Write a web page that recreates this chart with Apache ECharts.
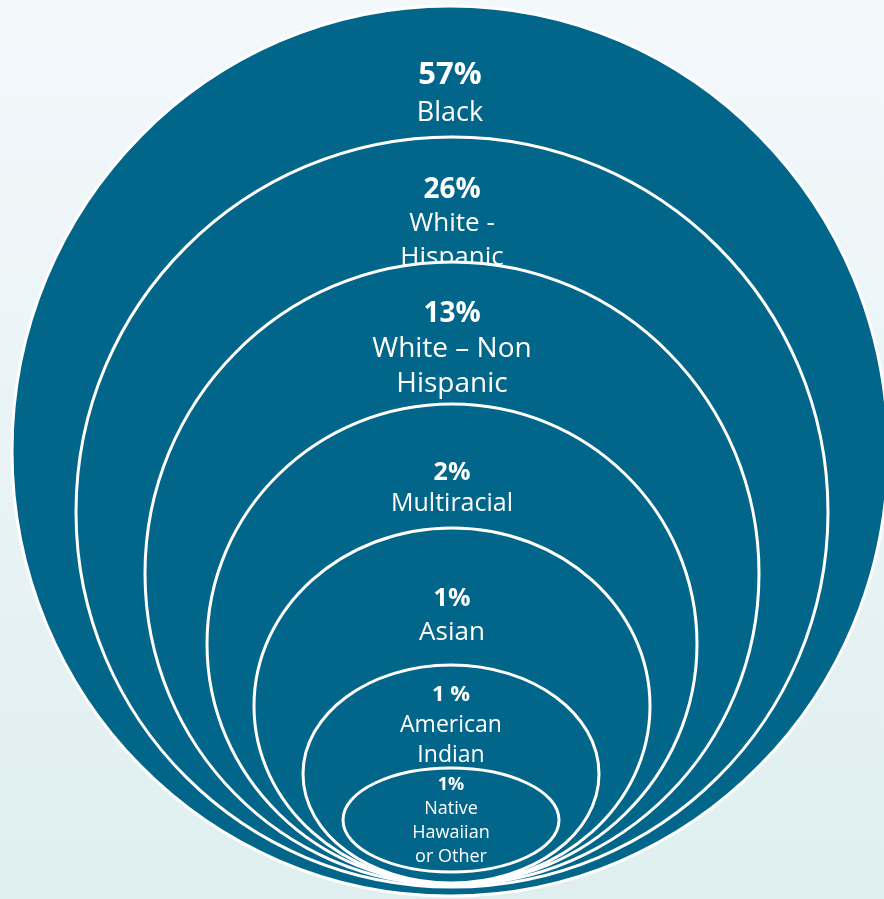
<!DOCTYPE html>
<html>
<head>
<meta charset="utf-8">
<script src="https://cdn.jsdelivr.net/npm/echarts@6/dist/echarts.min.js"></script>
<style>
  html, body { margin: 0; padding: 0; }
  #chart { width: 884px; height: 899px; }
</style>
</head>
<body>
<div id="chart"></div>
<script>
// Population shares by group, outermost ring first
const groups = ['Black', 'White - Hispanic', 'White – Non Hispanic', 'Multiracial', 'Asian', 'American Indian', 'Native Hawaiian or Other'];
const shares = [57, 26, 13, 2, 1, 1, 1];
// How each share is written beside its ring
const shareSuffix = ['%', '%', '%', '%', '%', ' %', '%'];
// Line breaks used for each group name
const nameLines = [
  ['Black'],
  ['White -', 'Hispanic'],
  ['White – Non', 'Hispanic'],
  ['Multiracial'],
  ['Asian'],
  ['American', 'Indian'],
  ['Native', 'Hawaiian', 'or Other']
];

// Ring layout in canvas units: horizontal centre, half width, top, bottom,
// first text line, line spacing and font sizes
const ringLayout = [
  { cx: 450, rx: 438, top: 6,   bottom: 896, textY: 75,  gap: 38, pctSize: 31, nameSize: 27 },
  { cx: 452, rx: 376, top: 137, bottom: 887, textY: 190, gap: 34, pctSize: 28, nameSize: 26 },
  { cx: 452, rx: 307, top: 262, bottom: 885, textY: 314, gap: 35, pctSize: 28, nameSize: 28 },
  { cx: 452, rx: 245, top: 404, bottom: 884, textY: 473, gap: 31, pctSize: 25, nameSize: 25 },
  { cx: 452, rx: 198, top: 528, bottom: 884, textY: 599, gap: 34, pctSize: 25, nameSize: 26 },
  { cx: 451, rx: 148, top: 665, bottom: 883, textY: 695, gap: 30, pctSize: 22, nameSize: 23 },
  { cx: 451, rx: 108, top: 768, bottom: 872, textY: 785, gap: 24, pctSize: 18, nameSize: 18 }
];

const W = 884, H = 899;
const FILL = '#02668a';
const FONT = '"Open Sans", "Noto Sans", sans-serif';

const chart = echarts.init(document.getElementById('chart'), null, { renderer: 'canvas' });

function renderRing(params, api) {
  const i = api.value(0);
  const L = ringLayout[i];
  const p0 = api.coord([L.cx - L.rx, L.top]);
  const p1 = api.coord([L.cx + L.rx, L.bottom]);
  const cx = (p0[0] + p1[0]) / 2;
  const cy = (p0[1] + p1[1]) / 2;
  const rx = Math.abs(p1[0] - p0[0]) / 2;
  const ry = Math.abs(p1[1] - p0[1]) / 2;

  const children = [{
    type: 'ellipse',
    shape: { cx: cx, cy: cy, rx: rx, ry: ry },
    style: { fill: FILL, stroke: '#ffffff', lineWidth: 3 }
  }];

  const lines = [{ text: shares[i] + shareSuffix[i], bold: true, size: L.pctSize }]
    .concat(nameLines[i].map(t => ({ text: t, bold: false, size: L.nameSize })));

  lines.forEach((ln, k) => {
    const pt = api.coord([L.cx, L.textY + k * L.gap]);
    children.push({
      type: 'text',
      x: pt[0],
      y: pt[1],
      style: {
        text: ln.text,
        fill: '#ffffff',
        font: (ln.bold ? 'bold ' : '') + ln.size + 'px ' + FONT,
        align: 'center',
        verticalAlign: 'middle'
      }
    });
  });

  return { type: 'group', children: children };
}

chart.setOption({
  backgroundColor: {
    type: 'linear', x: 0, y: 0, x2: 0, y2: 1,
    colorStops: [
      { offset: 0, color: '#f3f8fb' },
      { offset: 1, color: '#dfeff0' }
    ]
  },
  animation: false,
  grid: { left: 0, right: 0, top: 0, bottom: 0 },
  xAxis: { type: 'value', min: 0, max: W, show: false },
  yAxis: { type: 'value', min: 0, max: H, inverse: true, show: false },
  series: [{
    type: 'custom',
    coordinateSystem: 'cartesian2d',
    clip: false,
    encode: { x: 1, y: 2 },
    data: groups.map((g, i) => [i, ringLayout[i].cx, ringLayout[i].top]),
    renderItem: renderRing
  }]
});
</script>
</body>
</html>
